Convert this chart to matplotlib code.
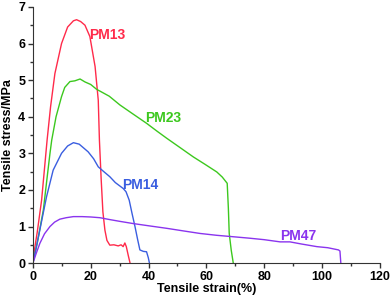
import matplotlib.pyplot as plt
from matplotlib.ticker import MultipleLocator

# values
pm13_x = [0, 0.5, 1.5, 3.0, 4.9, 6.1, 7.6, 9.9, 12.0, 14.0, 15.1, 16.5, 18.0, 19.7, 21.5, 22.6,
          23.0, 23.6, 24.2, 24.9, 25.6, 26.6, 28.0, 29.5, 30.5, 31.2, 31.8, 32.3, 33.0, 33.6]
pm13_y = [0, 0.35, 0.85, 1.72, 3.36, 4.27, 5.18, 6.0, 6.45, 6.62, 6.65, 6.6, 6.5, 6.19, 5.37, 4.45,
          3.36, 2.3, 1.4, 0.9, 0.62, 0.49, 0.5, 0.47, 0.5, 0.45, 0.55, 0.45, 0.2, 0]

pm23_x = [0, 1.5, 3.6, 5.0, 5.9, 6.5, 8.0, 9.9, 11.0, 12.8, 14.5, 16.3, 18.0, 20.0, 22.0, 26.4,
          30.1, 34.5, 39.3, 43.0, 46.3, 51.0, 55.5, 59.5, 63.6, 65.5, 67.2, 67.6, 67.9, 68.6, 69.3]
pm23_y = [0, 0.55, 1.45, 2.4, 3.0, 3.36, 4.0, 4.55, 4.8, 4.96, 4.98, 5.03, 4.95, 4.88, 4.75, 4.56,
          4.32, 4.08, 3.82, 3.6, 3.41, 3.15, 2.9, 2.7, 2.49, 2.35, 2.18, 1.5, 0.81, 0.35, 0]

pm14_x = [0, 1.2, 2.4, 4.7, 7.0, 9.9, 12.0, 14.0, 16.0, 19.1, 21.0, 22.6, 24.5, 26.6, 28.5,
          31.2, 32.2, 33.3, 34.3, 35.3, 36.2, 37.0, 38.2, 39.3, 39.9, 40.3]
pm14_y = [0, 0.45, 0.91, 1.81, 2.54, 3.0, 3.2, 3.29, 3.25, 3.04, 2.85, 2.63, 2.5, 2.36, 2.2,
          2.04, 1.95, 1.72, 1.35, 1.0, 0.65, 0.36, 0.32, 0.31, 0.15, 0]

pm47_x = [0, 1.2, 2.4, 4.0, 5.9, 7.5, 9.3, 11.5, 14.0, 17.0, 20.0, 23.2, 26.5, 30.1, 34.7,
          40.0, 46.3, 52.0, 57.8, 63.5, 69.3, 75.0, 80.0, 85.5, 88.9, 93.0, 98.2, 102.0,
          105.7, 106.2, 106.5]
pm47_y = [0, 0.28, 0.54, 0.8, 1.0, 1.12, 1.2, 1.24, 1.27, 1.27, 1.26, 1.24, 1.19, 1.14, 1.08,
          1.02, 0.95, 0.88, 0.81, 0.76, 0.72, 0.68, 0.64, 0.58, 0.58, 0.52, 0.45, 0.42,
          0.36, 0.33, 0]

plt.rcParams['font.family'] = ['Liberation Sans', 'DejaVu Sans']
plt.rcParams['font.weight'] = 'bold'

fig = plt.figure(figsize=(3.92, 3.0), dpi=100)
ax = fig.add_axes([0.084, 0.123, 0.885, 0.854])

ax.plot(pm13_x, pm13_y, color='#ff2a4a', lw=1.0)
ax.plot(pm23_x, pm23_y, color='#3cc81e', lw=1.0)
ax.plot(pm14_x, pm14_y, color='#3a5ee0', lw=1.0)
ax.plot(pm47_x, pm47_y, color='#8a34ee', lw=1.0)

lab = dict(fontsize=10, fontweight='bold', ha='center', va='center')
ax.text(25.6, 6.23, 'PM13', color='#ff2a4a', **lab)
ax.text(45.0, 3.96, 'PM23', color='#3cc81e', **lab)
ax.text(37.0, 2.13, 'PM14', color='#3a5ee0', **lab)
ax.text(91.7, 0.74, 'PM47', color='#8a34ee', **lab)

ax.set_xlim(0, 120)
ax.set_ylim(0, 7)
ax.xaxis.set_major_locator(MultipleLocator(20))
ax.xaxis.set_minor_locator(MultipleLocator(10))
ax.yaxis.set_major_locator(MultipleLocator(1))
ax.yaxis.set_minor_locator(MultipleLocator(0.5))
ax.spines['top'].set_visible(False)
ax.spines['right'].set_visible(False)
for s in ['left', 'bottom']:
    ax.spines[s].set_color('#333333')
ax.tick_params(which='major', direction='out', length=3.5, width=1, pad=2,
               labelsize=9, colors='#333333', labelcolor='black')
ax.tick_params(which='minor', direction='out', length=2, width=1, colors='#333333')
for t in ax.get_xticklabels() + ax.get_yticklabels():
    t.set_fontweight('bold')

ax.set_xlabel('Tensile strain(%)', fontsize=9, fontweight='bold', labelpad=0)
ax.set_ylabel('Tensile stress/MPa', fontsize=9, fontweight='bold', labelpad=3)

fig.savefig('out.png', dpi=100)
